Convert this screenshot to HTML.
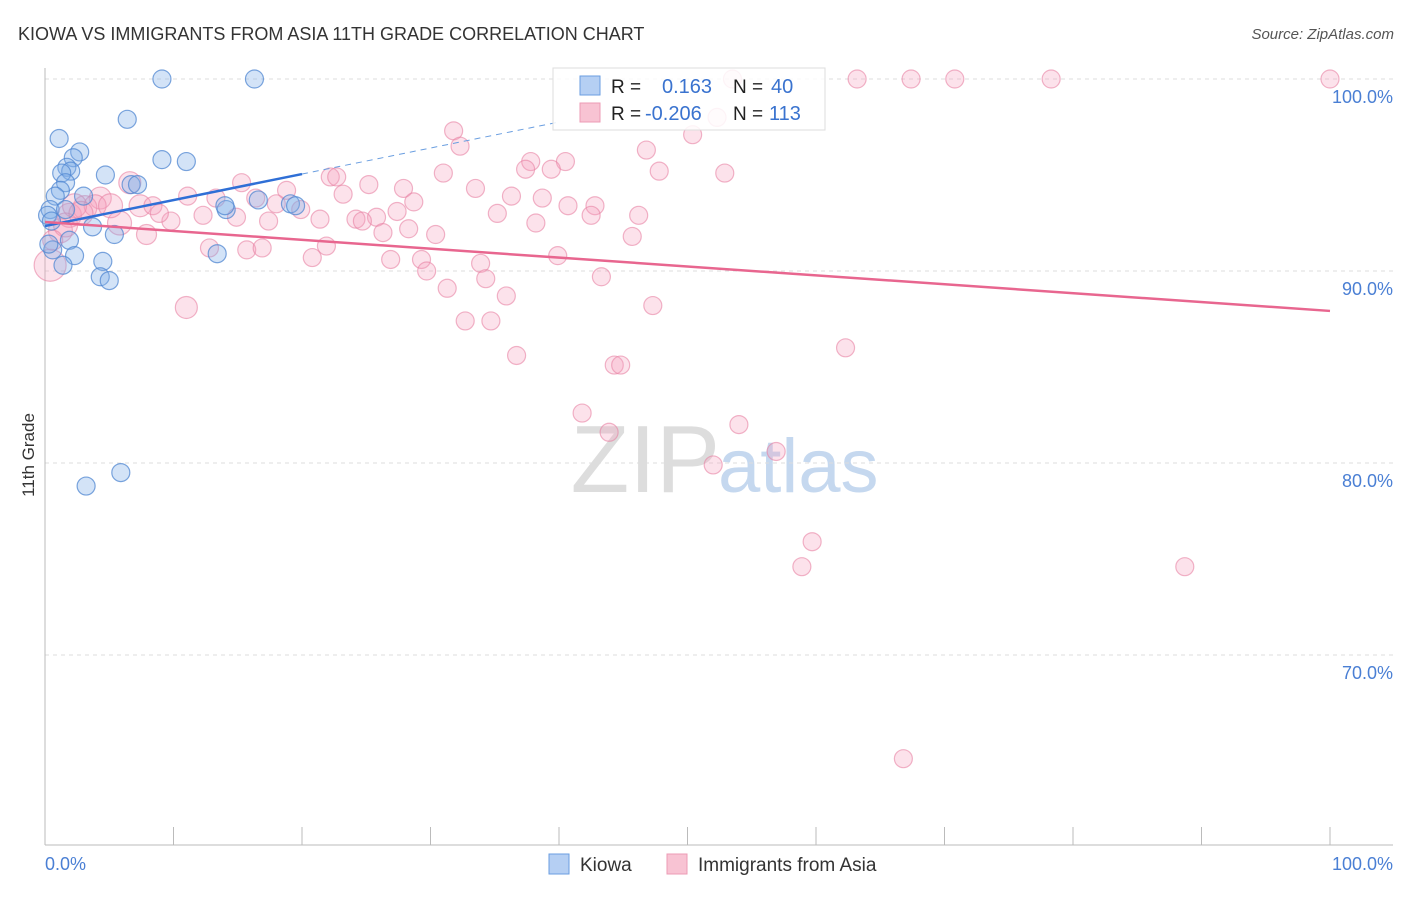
<!DOCTYPE html>
<html><head><meta charset="utf-8"><style>
body{margin:0;background:#fff;font-family:"Liberation Sans",sans-serif}
svg text{font-family:"Liberation Sans",sans-serif}
</style></head><body>
<svg width="1406" height="892" id="chart">
<text x="18" y="40" font-size="18" fill="#333">KIOWA VS IMMIGRANTS FROM ASIA 11TH GRADE CORRELATION CHART</text>
<text x="1394" y="39" font-size="15" fill="#555" font-style="italic" text-anchor="end">Source: ZipAtlas.com</text>
<text x="720" y="492" font-size="96" fill="#ddd" text-anchor="end" font-family="Liberation Serif">ZIP</text>
<text x="718" y="492" font-size="76" fill="#c5d8ef">atlas</text>
<g id="grid"></g>
<g id="axes"></g>
<g id="pinkpts"></g>
<g id="bluepts"></g>
<g id="lines"></g>
<text x="34" y="455" font-size="17" fill="#333" transform="rotate(-90 34 455)" text-anchor="middle">11th Grade</text>
<text x="45" y="870" font-size="18" fill="#4a7fd4">0.0%</text>
<text x="1393" y="870" font-size="18" fill="#4a7fd4" text-anchor="end">100.0%</text>
<g>
<rect x="553" y="68" width="272" height="62" fill="#fff" fill-opacity="0.85" stroke="#ddd"/>
<rect x="580" y="76" width="20" height="19" fill="#b5cff3" stroke="#6a9ee0"/>
<rect x="580" y="103" width="20" height="19" fill="#f8c3d3" stroke="#ec9bb4"/>
<text x="611" y="93" font-size="19" fill="#222">R =</text>
<text x="662" y="93" font-size="20" fill="#3a73cf">0.163</text>
<text x="733" y="93" font-size="19" fill="#222">N =</text>
<text x="771" y="93" font-size="20" fill="#3a73cf">40</text>
<text x="611" y="120" font-size="19" fill="#222">R =</text>
<text x="645" y="120" font-size="20" fill="#3a73cf">-0.206</text>
<text x="733" y="120" font-size="19" fill="#222">N =</text>
<text x="769" y="120" font-size="20" fill="#3a73cf">113</text>
</g>
<g>
<rect x="549" y="854" width="20" height="20" fill="#b5cff3" stroke="#6a9ee0"/>
<text x="580" y="871" font-size="19" fill="#333">Kiowa</text>
<rect x="667" y="854" width="20" height="20" fill="#f8c3d3" stroke="#ec9bb4"/>
<text x="698" y="871" font-size="19" fill="#333">Immigrants from Asia</text>
</g>
</svg>
<script>
const yTicks=[100,90,80,70];
const yTickLabels=["100.0%","90.0%","80.0%","70.0%"];
const xTicks=[0,10,20,30,40,50,60,70,80,90,100];
const blueX=[9.1,16.3,6.4,1.1,2.7,9.1,11.0,2.2,1.7,2.0,1.3,4.7,1.6,6.7,7.2,1.2,0.8,3.0,0.4,0.2,14.1,19.1,3.7,5.4,1.9,0.6,2.3,13.4,4.5,1.4,4.3,5.0,3.2,5.9,0.5,0.3,16.6,1.6,14.0,19.5];
const blueY=[100,100,97.9,96.9,96.2,95.8,95.7,95.9,95.4,95.2,95.1,95.0,94.6,94.5,94.5,94.2,93.9,93.9,93.2,92.9,93.2,93.5,92.3,91.9,91.6,91.1,90.8,90.9,90.5,90.3,89.7,89.5,78.8,79.5,92.6,91.4,93.7,93.2,93.4,93.4];
const pinkX=[53.5,63.2,67.4,70.8,78.3,100,52.3,31.8,32.3,46.8,50.4,40.5,37.8,37.4,39.4,47.8,52.9,31.0,22.2,22.7,15.3,25.2,33.5,27.9,18.8,23.2,36.3,38.7,28.7,40.7,42.8,6.6,4.3,11.1,13.3,16.4,18.0,7.4,8.4,19.9,35.2,42.5,46.2,27.4,25.8,21.4,24.2,24.7,14.9,17.4,12.3,9.8,5.8,8.9,38.2,28.3,26.3,30.4,45.7,7.9,21.9,12.8,15.7,16.9,20.8,39.9,26.9,29.3,33.9,29.7,43.3,34.3,31.3,35.9,11.0,47.3,32.7,34.7,62.3,36.7,44.3,44.8,41.8,43.9,54.0,56.9,52.0,59.7,58.9,88.7,66.8,0.4,1.2,1.9,3.1,3.9,2.3,5.1,1.6,0.6,2.8];
const pinkY=[100,100,100,100,100,100,98.0,97.3,96.5,96.3,97.1,95.7,95.7,95.3,95.3,95.2,95.1,95.1,94.9,94.9,94.6,94.5,94.3,94.3,94.2,94.0,93.9,93.8,93.6,93.4,93.4,94.6,93.8,93.9,93.8,93.8,93.5,93.4,93.4,93.2,93.0,92.9,92.9,93.1,92.8,92.7,92.7,92.6,92.8,92.6,92.9,92.6,92.5,93.0,92.5,92.2,92.0,91.9,91.8,91.9,91.3,91.2,91.1,91.2,90.7,90.8,90.6,90.6,90.4,90.0,89.7,89.6,89.1,88.7,88.1,88.2,87.4,87.4,86.0,85.6,85.1,85.1,82.6,81.6,82.0,80.6,79.9,75.9,74.6,74.6,64.6,90.3,92.1,92.9,93.3,93.4,93.4,93.4,92.4,91.6,93.0];
const pinkR=[9,9,9,9,9,9,9,9,9,9,9,9,9,9,9,9,9,9,9,9,9,9,9,9,9,9,9,9,9,9,9,11,11,9,9,9,9,11,9,9,9,9,9,9,9,9,9,9,9,9,9,9,12,9,9,9,9,9,9,10,9,9,9,9,9,9,9,9,9,9,9,9,9,9,11,9,9,9,9,9,9,9,9,9,9,9,9,9,9,9,9,16,12,12,12,11,12,12,12,10,12];
const blueTrend=[92.34,95.05];
const pinkTrend=[92.55,87.92];
const NS="http://www.w3.org/2000/svg";
const X=p=>45+p*12.85, Y=v=>79+(100-v)*19.2;
function mk(t,a,parent){const e=document.createElementNS(NS,t);for(const k in a)e.setAttribute(k,a[k]);document.getElementById(parent).appendChild(e);return e;}
yTicks.forEach((v,i)=>{
 const g=mk('line',{x1:45,x2:1393,y1:Y(v),y2:Y(v),stroke:'#ddd','stroke-dasharray':'4,4'},'grid');
 
 
 const t=mk('text',{x:1393,y:Y(v)+24,'font-size':18,fill:'#4a7fd4','text-anchor':'end'},'grid');
 t.textContent=yTickLabels[i];
 
 
});
const ax=mk('line',{x1:45,x2:45,y1:68,y2:845,stroke:'#bbb'},'axes');


const bx=mk('line',{x1:45,x2:1393,y1:845,y2:845,stroke:'#bbb'},'axes');


xTicks.forEach(p=>{const t=mk('line',{x1:X(p),x2:X(p),y1:827,y2:845,stroke:'#bbb'},'axes');
 
 });
pinkX.forEach((p,i)=>{const c=mk('circle',{cx:X(p),cy:Y(pinkY[i]),r:pinkR[i]||9,fill:'rgba(244,160,188,0.3)',stroke:'rgba(232,130,164,0.6)','stroke-width':1.2},'pinkpts');
 
 });
blueX.forEach((p,i)=>{const c=mk('circle',{cx:X(p),cy:Y(blueY[i]),r:9,fill:'rgba(130,175,232,0.35)',stroke:'rgba(80,135,210,0.75)','stroke-width':1.2},'bluepts');
 
 });
const bl=mk('line',{x1:X(0),y1:Y(blueTrend[0]),x2:X(20),y2:Y(blueTrend[1]),stroke:'#2f6fd6','stroke-width':2.5},'lines');


const slope=(blueTrend[1]-blueTrend[0])/20;
const bd=mk('line',{x1:X(20),y1:Y(blueTrend[1]),x2:X(40),y2:Y(blueTrend[0]+slope*40),stroke:'#6a9ee0','stroke-width':1,'stroke-dasharray':'6,5'},'lines');


const pl=mk('line',{x1:X(0),y1:Y(pinkTrend[0]),x2:X(100),y2:Y(pinkTrend[1]),stroke:'#e8668f','stroke-width':2.5},'lines');


</script>
</body></html>
